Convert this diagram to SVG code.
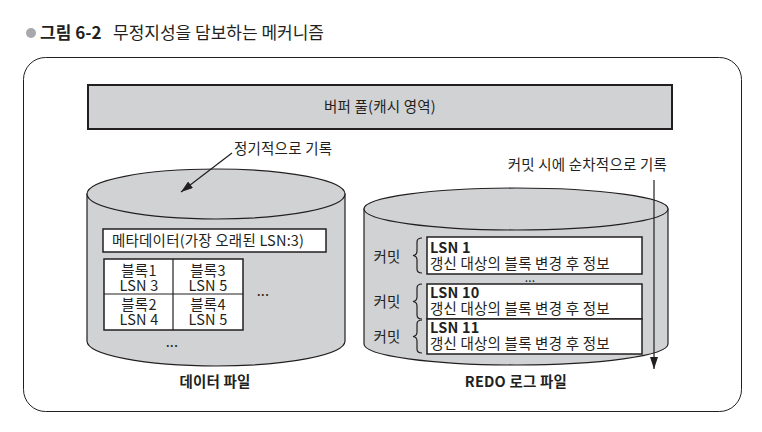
<svg xmlns="http://www.w3.org/2000/svg" width="762" height="432" viewBox="0 0 762 432">
<style>
text{font-family:"Noto Sans CJK KR","Liberation Sans",sans-serif;fill:#231f20;font-size:14.5px;letter-spacing:0.2px}
.c{text-anchor:middle}
.b{font-weight:bold}
.box{fill:#fff;stroke:#231f20;stroke-width:1.5}
.cyl{fill:#d1d2d4;stroke:#231f20;stroke-width:1.2}
.ln{stroke:#231f20;stroke-width:1.2;fill:none}
</style>
<defs>
<marker id="ah" viewBox="0 0 12 8" refX="12" refY="4" markerWidth="10" markerHeight="6.7" orient="auto"><path d="M0,0L12,4L0,8z" fill="#231f20"/></marker>
</defs>
<g id="title">
<circle cx="31" cy="33" r="5" fill="#a7a9ac"/>
<text x="40" y="39" class="b" style="font-size:17px;letter-spacing:0">그림 6-2</text>
<text x="113" y="39" style="font-size:17px;letter-spacing:0">무정지성을 담보하는 메커니즘</text>
</g>
<rect x="23.5" y="57.5" width="718" height="354" rx="22" fill="#fff" stroke="#231f20" stroke-width="1"/>
<g id="buffer">
<rect x="88" y="85" width="584" height="44" fill="#d1d2d4" stroke="#231f20" stroke-width="2"/>
<text x="380" y="112" class="c">버퍼 풀(캐시 영역)</text>
</g>
<g id="datafile">
<path class="cyl" d="M87,194 L87,341 A129,25 0 0 0 345,341 L345,194 Z"/>
<ellipse class="cyl" cx="216" cy="194" rx="129" ry="25"/>
<rect class="box" x="103" y="229" width="223" height="23"/>
<text x="112" y="246">메타데이터(가장 오래된 LSN:3)</text>
<rect class="box" x="104" y="259" width="139" height="71"/>
<line class="ln" x1="173" y1="259" x2="173" y2="330"/>
<line class="ln" x1="104" y1="294" x2="243" y2="294"/>
<text class="c"><tspan x="139" y="276">블록1</tspan><tspan x="139" y="291">LSN 3</tspan></text>
<text class="c"><tspan x="208" y="276">블록3</tspan><tspan x="208" y="291">LSN 5</tspan></text>
<text class="c"><tspan x="139" y="310">블록2</tspan><tspan x="139" y="325">LSN 4</tspan></text>
<text class="c"><tspan x="208" y="310">블록4</tspan><tspan x="208" y="325">LSN 5</tspan></text>
<text x="263" y="296" class="c">...</text>
<text x="172" y="347" class="c">...</text>
<text x="215" y="387" class="c b">데이터 파일</text>
</g>
<g id="redolog">
<path class="cyl" d="M364,209 L364,344 A152,21 0 0 0 668,344 L668,209 Z"/>
<ellipse class="cyl" cx="516" cy="209" rx="152" ry="21"/>
<rect class="box" x="427" y="237" width="215" height="37"/>
<rect class="box" x="427" y="284" width="215" height="35"/>
<rect class="box" x="427" y="319" width="215" height="35"/>
<text><tspan x="430" y="253" class="b">LSN 1</tspan><tspan x="430" y="269">갱신 대상의 블록 변경 후 정보</tspan></text>
<text x="530" y="282" class="c" style="font-size:12px">...</text>
<text><tspan x="430" y="298" class="b">LSN 10</tspan><tspan x="430" y="314">갱신 대상의 블록 변경 후 정보</tspan></text>
<text><tspan x="430" y="333" class="b">LSN 11</tspan><tspan x="430" y="349">갱신 대상의 블록 변경 후 정보</tspan></text>
<text x="387" y="262" class="c">커밋</text>
<text x="387" y="307" class="c">커밋</text>
<text x="387" y="342" class="c">커밋</text>
<path class="ln" d="M422,238 Q417,238 417,242 L417,251 Q417,255 413,255.5 Q417,256 417,260 L417,269 Q417,273 422,273"/>
<path class="ln" d="M422,284 Q417,284 417,288 L417,297 Q417,301 413,301.5 Q417,302 417,306 L417,315 Q417,319 422,319"/>
<path class="ln" d="M422,320 Q417,320 417,324 L417,332 Q417,336 413,336.5 Q417,337 417,341 L417,349 Q417,353 422,353"/>
<text x="516" y="387" class="c b">REDO 로그 파일</text>
</g>
<g id="connectors">
<line class="ln" x1="232" y1="153" x2="181" y2="192" marker-end="url(#ah)"/>
<line class="ln" x1="654" y1="180" x2="654" y2="369" marker-end="url(#ah)"/>
</g>
<g id="labels">
<text x="234" y="154">정기적으로 기록</text>
<text x="667" y="170" style="text-anchor:end">커밋 시에 순차적으로 기록</text>
</g>
</svg>
